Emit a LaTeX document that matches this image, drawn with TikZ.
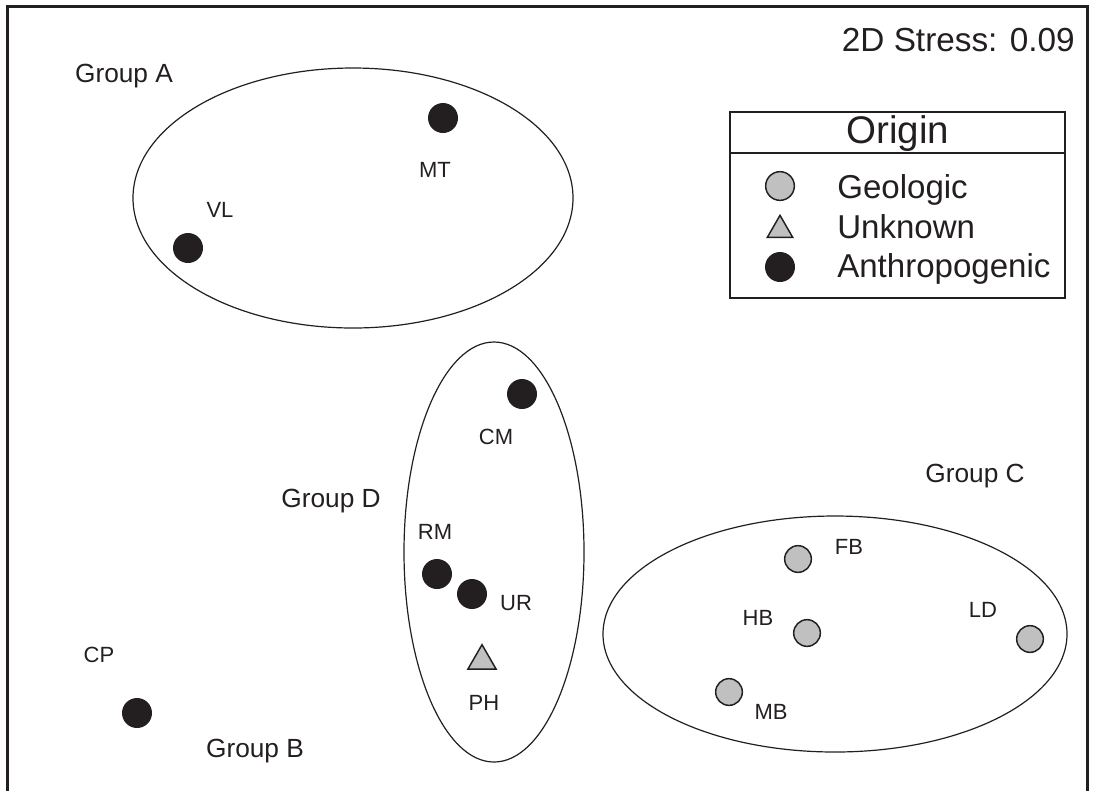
\documentclass[tikz,border=0pt]{standalone}
\usepackage{fontspec}
\setmainfont{Liberation Sans}
\usetikzlibrary{shapes.geometric}
\definecolor{ink}{HTML}{231F20}
\definecolor{geogray}{HTML}{C0C0C0}
\begin{document}
\begin{tikzpicture}[x=0.75pt,y=-0.75pt,
  anthro/.style={circle,fill=ink,inner sep=0pt,minimum size=22.5pt},
  geo/.style={circle,fill=geogray,draw=ink,line width=1.1pt,inner sep=0pt,minimum size=20pt},
  unk/.style={regular polygon,regular polygon sides=3,fill=geogray,draw=ink,line width=1.1pt,inner sep=0pt,minimum size=24.5pt},
  lbl/.style={inner sep=0pt,text=ink,font=\fontsize{16.5}{18}\selectfont},
  grp/.style={inner sep=0pt,anchor=base,text=ink,font=\fontsize{19.7}{22}\selectfont},
  hull/.style={draw=ink,line width=0.9pt},
  legtext/.style={inner sep=0pt,anchor=base west,text=ink,font=\fontsize{24.8}{28}\selectfont},
  frame/.style={draw=ink,line width=2.25pt}]
\useasboundingbox (0,0) rectangle (1094,790);
% frame (open at bottom)
\draw[frame] (7.5,795) -- (7.5,6.5) -- (1087,6.5) -- (1087,795);
\node[inner sep=0pt,anchor=base east,text=ink,font=\fontsize{25}{28}\selectfont] (stress) at (1075,51) {2D Stress: 0.09};
% hulls
\draw[hull] (353,198) ellipse [x radius=165pt, y radius=97.5pt];
\draw[hull] (494,552) ellipse [x radius=67.5pt, y radius=157.5pt];
\draw[hull] (835,634) ellipse [x radius=174pt, y radius=88.5pt];
% group labels
\node[grp] (gA) at (124,82) {Group A};
\node[grp] (gB) at (255,757) {Group B};
\node[grp] (gC) at (975,482) {Group C};
\node[grp] (gD) at (331,507) {Group D};
% anthropogenic points
\node[anthro] (MT) at (443,118) {};
\node[lbl] (MTl) at (435,170) {MT};
\node[anthro] (VL) at (188,248) {};
\node[lbl] (VLl) at (220,210) {VL};
\node[anthro] (CM) at (522,394) {};
\node[lbl] (CMl) at (496,437) {CM};
\node[anthro] (RM) at (437,574) {};
\node[lbl] (RMl) at (435,532) {RM};
\node[anthro] (UR) at (472,594) {};
\node[lbl] (URl) at (516,603) {UR};
\node[anthro] (CP) at (137,713) {};
\node[lbl] (CPl) at (99,655) {CP};
% unknown
\node[unk] (PH) at (482,661) {};
\node[lbl] (PHl) at (484,703) {PH};
% geologic
\node[geo] (FB) at (798,559) {};
\node[lbl] (FBl) at (849,547) {FB};
\node[geo] (HB) at (807,633) {};
\node[lbl] (HBl) at (758,618) {HB};
\node[geo] (LD) at (1030,639) {};
\node[lbl] (LDl) at (983,610) {LD};
\node[geo] (MB) at (729,692) {};
\node[lbl] (MBl) at (771,712) {MB};
% legend
\draw[draw=ink,line width=1.5pt] (730,112) rectangle (1065,298);
\draw[draw=ink,line width=1.5pt] (730,153) -- (1065,153);
\node[inner sep=0pt,anchor=base,text=ink,font=\fontsize{28.9}{32}\selectfont] (origin) at (898,143) {Origin};
\node[geo,minimum size=21.5pt] (lgeo) at (780,186) {};
\node[legtext] (lgeot) at (837,198) {Geologic};
\node[unk,minimum size=22pt] (lunk) at (780,230) {};
\node[legtext] (lunkt) at (837,238) {Unknown};
\node[anthro] (lanth) at (780,267) {};
\node[legtext] (lantht) at (837,277) {Anthropogenic};
\end{tikzpicture}
\end{document}
